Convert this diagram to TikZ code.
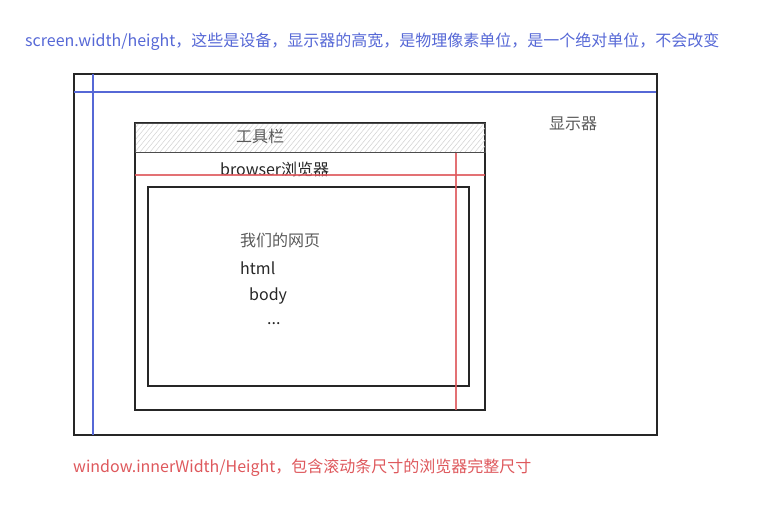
\documentclass[tikz,border=0pt]{standalone}
\usepackage{fontspec}
\setmainfont{Noto Sans CJK SC}
\definecolor{noteblue}{RGB}{86,104,214}
\definecolor{notered}{RGB}{222,88,92}
\begin{document}
\begin{tikzpicture}[x=1pt,y=-1pt,
  frame/.style={draw=black!85,line width=1.1pt},
  screenline/.style={draw=noteblue,line width=1.2pt},
  innerline/.style={draw=notered,line width=1.5pt,opacity=.85},
  hatch/.style={black!18,line width=0.5pt},
  label/.style={font=\fontsize{16}{18}\selectfont,inner sep=0pt,anchor=west},
  gray label/.style={label,text=black!65},
  dark label/.style={label,text=black!85}]
\useasboundingbox (0,0) rectangle (783,504);

% monitor
\draw[frame] (74,74) rectangle (657,435);
\node[gray label] (monitor) at (549,124) {显示器};

% browser window
\draw[frame] (135,123) rectangle (485,410);
% toolbar with hatching
\begin{scope}
  \clip (135,123) rectangle (485,152);
  \foreach \i in {0,5,...,400}
    \draw[hatch] (135+\i-25,152) -- (135+\i,122);
\end{scope}
\draw[draw=black!70,line width=1pt] (135,123) rectangle (485,152);
\node[gray label] (toolbar) at (236,136) {工具栏};
\node[dark label] (browser) at (220,169) {browser浏览器};

% page area
\draw[frame] (148,187) rectangle (469,386);
\node[gray label] (page) at (240,240) {我们的网页};
\node[dark label] (html) at (240,268) {html};
\node[dark label] (body) at (249,296) {body};
\node[dark label] (dots) at (267,324) {...};

% screen extent lines
\draw[screenline] (74,92) -- (656,92);
\draw[screenline] (93,74) -- (93,435);

% innerWidth/innerHeight lines
\draw[innerline] (135,175) -- (485,175);
\draw[innerline] (456,153) -- (456,410);

% notes
\node[label,text=noteblue] (screen) at (25,42) {screen.width/height，这些是设备，显示器的高宽，是物理像素单位，是一个绝对单位，不会改变};
\node[label,text=notered] (inner) at (73,468) {window.innerWidth/Height，包含滚动条尺寸的浏览器完整尺寸};
\end{tikzpicture}
\end{document}
